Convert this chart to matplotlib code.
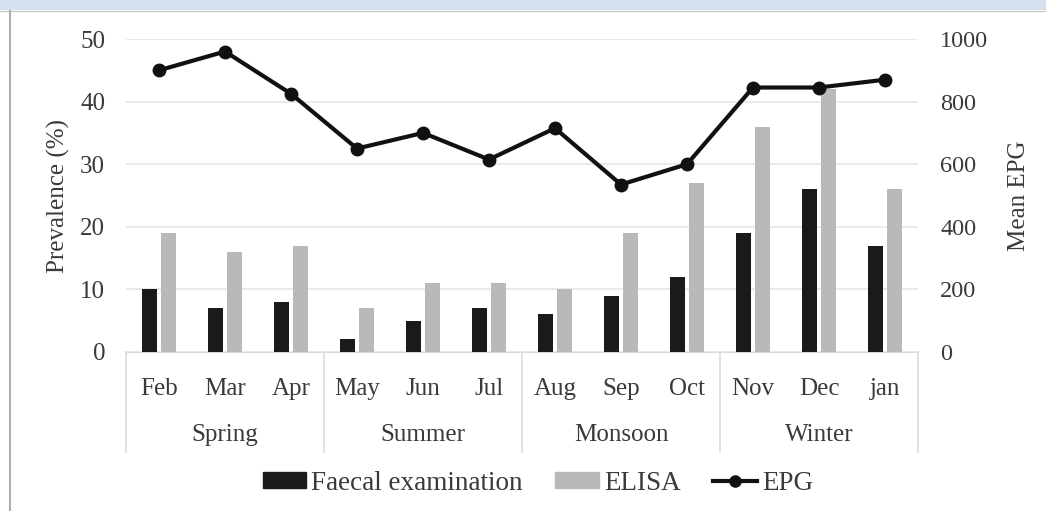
import matplotlib
matplotlib.use("Agg")
import matplotlib.pyplot as plt
import numpy as np
from matplotlib.lines import Line2D
from matplotlib.patches import Rectangle

months = ["Feb", "Mar", "Apr", "May", "Jun", "Jul", "Aug", "Sep", "Oct", "Nov", "Dec", "jan"]
seasons = ["Spring", "Summer", "Monsoon", "Winter"]
faecal = [10, 7, 8, 2, 5, 7, 6, 9, 12, 19, 26, 17]
elisa = [19, 16, 17, 7, 11, 11, 10, 19, 27, 36, 42, 26]
epg = [900, 960, 825, 650, 700, 615, 715, 535, 600, 845, 845, 870]

plt.rcParams['font.family'] = ['Liberation Serif', 'DejaVu Serif']
TXT = "#3a3a3a"
FS = 18

fig = plt.figure(figsize=(10.46, 5.11), dpi=100)
# frame decorations
fig.patches.append(Rectangle((0, 1 - 10 / 511), 1, 10 / 511, transform=fig.transFigure,
                             facecolor="#d5e0ee", edgecolor="none", zorder=0))
fig.add_artist(Line2D([0, 1], [1 - 11 / 511, 1 - 11 / 511], transform=fig.transFigure,
                      color="#c8c8c8", lw=1))
fig.add_artist(Line2D([10 / 1046, 10 / 1046], [0, 1 - 11 / 511], transform=fig.transFigure,
                      color="#b0b0b0", lw=1.5))

ax = fig.add_axes([126 / 1046, 1 - 352 / 511, (918 - 126) / 1046, (352 - 39) / 511])
x = np.arange(len(months))
w = 0.23
ax.bar(x - 0.145, faecal, width=w, color="#1a1a1a", zorder=3)
ax.bar(x + 0.145, elisa, width=w, color="#b9b9b9", zorder=3)
ax.set_xlim(-0.5, len(months) - 0.5)
ax.set_ylim(0, 50)
ax.set_yticks([0, 10, 20, 30, 40, 50])
ax.yaxis.grid(True, color="#e6e6e6", lw=1.2, zorder=0)
ax.set_axisbelow(True)
for s in ["top", "right", "left"]:
    ax.spines[s].set_visible(False)
ax.spines["bottom"].set_color("#dcdcdc")
ax.tick_params(axis="y", length=0, pad=15, labelsize=FS, labelcolor=TXT)
ax.set_xticks(x)
ax.set_xticklabels(months)
ax.tick_params(axis="x", length=0, pad=19, labelsize=FS, labelcolor=TXT)
ax.set_ylabel("Prevalence (%)", fontsize=FS, color=TXT, labelpad=7)

# season separators and labels
for b in [-0.5, 2.5, 5.5, 8.5, 11.5]:
    ax.plot([b, b], [0, -100 / 313], transform=ax.get_xaxis_transform(),
            color="#dcdcdc", lw=1.2, clip_on=False)
for i, s in enumerate(seasons):
    ax.text(3 * i + 1, -83 / 313, s, transform=ax.get_xaxis_transform(),
            ha="center", va="center", fontsize=FS, color=TXT)

ax2 = ax.twinx()
ax2.plot(x, epg, color="#111111", lw=3, marker="o", ms=9, zorder=5)
ax2.set_ylim(0, 1000)
ax2.set_yticks([0, 200, 400, 600, 800, 1000])
for s in ["top", "right", "left", "bottom"]:
    ax2.spines[s].set_visible(False)
ax2.tick_params(axis="y", length=0, pad=16, labelsize=FS - 0.5, labelcolor=TXT)
ax2.set_ylabel("Mean EPG", fontsize=FS, color=TXT, labelpad=14)

handles = [Rectangle((0, 0), 1, 1, color="#1a1a1a"),
           Rectangle((0, 0), 1, 1, color="#b9b9b9"),
           Line2D([], [], color="#111111", lw=3, marker="o", ms=8)]
fig.legend(handles, ["Faecal examination", "ELISA", "EPG"], loc="center",
           bbox_to_anchor=(538 / 1046, 1 - 483 / 511), ncol=3, frameon=False,
           fontsize=19.5, labelcolor=TXT, handlelength=1.6, handleheight=0.5,
           handletextpad=0.2, columnspacing=1.2)

fig.savefig("out.png", dpi=100)
